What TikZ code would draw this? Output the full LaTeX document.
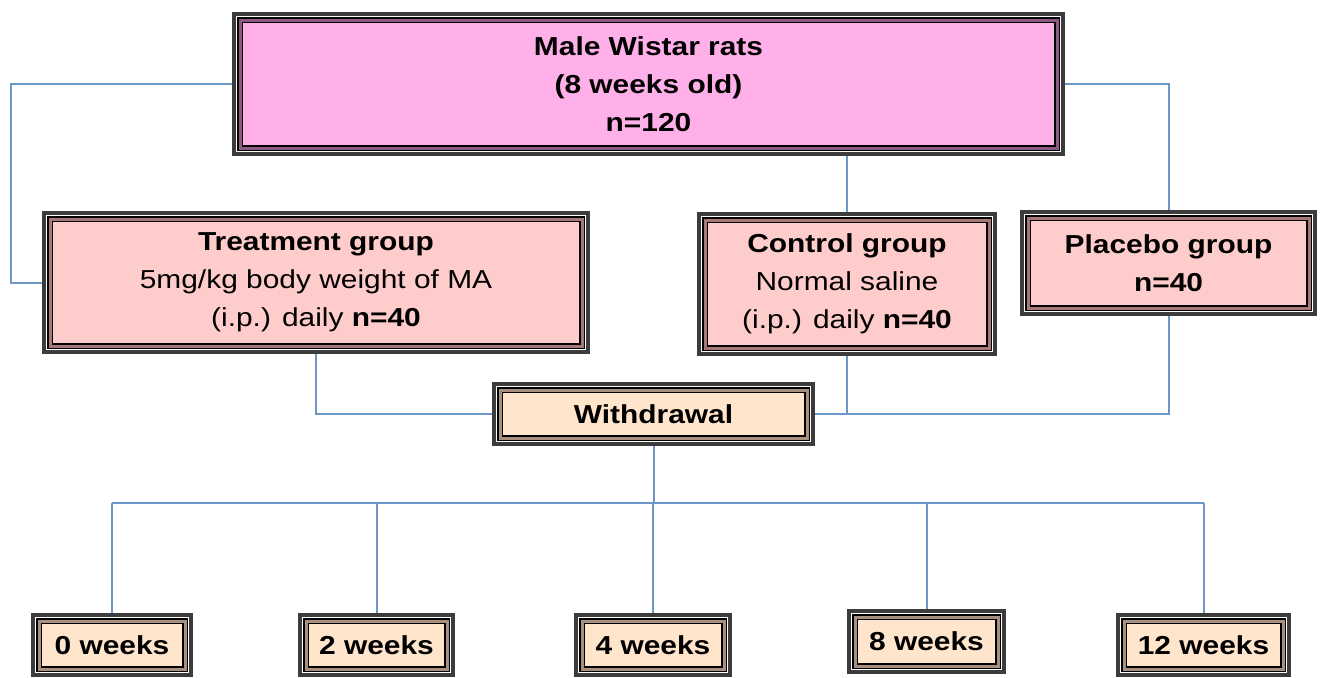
\documentclass[tikz,border=0pt]{standalone}
\usepackage{fontspec}
\setmainfont[FakeStretch=1.15]{Liberation Sans}
\usepackage{xcolor}
\usetikzlibrary{backgrounds}
\definecolor{topfill}{HTML}{FFB0E8}
\definecolor{topband}{HTML}{8C5A80}
\definecolor{grpfill}{HTML}{FFCCCC}
\definecolor{grpband}{HTML}{A87878}
\definecolor{wkfill}{HTML}{FFE5CC}
\definecolor{wkband}{HTML}{A89080}
\definecolor{linkblue}{HTML}{6C96C8}
\definecolor{framegray}{HTML}{3C3C3C}

\begin{document}
\begin{tikzpicture}[x=0.5pt, y=-0.5pt,
      every node/.style={font=\fontsize{13}{19}\selectfont, align=center, inner sep=0pt},
      box/.style={preaction={draw=framegray, line width=8pt},
                  preaction={draw=white, line width=4pt},
                  draw=black, line width=0.75pt, double=#1, double distance=1.5pt},
      conn/.style={draw=linkblue, line width=1pt}]

      \useasboundingbox (0,0) rectangle (1328,677);

      \node[box=topband, fill=topfill, minimum width=408.5pt, minimum height=64pt] (rats) at (648.5,84)
        {\textbf{Male Wistar rats}\\\textbf{(8 weeks old)}\\\textbf{n=120}};

      \node[box=grpband, fill=grpfill, minimum width=266pt, minimum height=63.5pt] (treat) at (316,282.5)
        {\textbf{Treatment group}\\5mg/kg body weight of MA\\(i.p.) daily \textbf{n=40}};
      \node[box=grpband, fill=grpfill, minimum width=142pt, minimum height=64pt] (ctrl) at (847,284)
        {\textbf{Control group}\\Normal saline\\(i.p.) daily \textbf{n=40}};
      \node[box=grpband, fill=grpfill, minimum width=140.5pt, minimum height=45pt] (plac) at (1168.5,263)
        {\textbf{Placebo group}\\\textbf{n=40}};

      \node[box=wkband, fill=wkfill, minimum width=153.5pt, minimum height=24pt] (wd) at (653.5,414)
        {\textbf{Withdrawal}};

      \node[box=wkband, fill=wkfill, minimum width=73pt, minimum height=24pt] (wk0) at (112,645) {\textbf{0 weeks}};
      \node[box=wkband, fill=wkfill, minimum width=70.5pt, minimum height=24pt] (wk2) at (376.5,645) {\textbf{2 weeks}};
      \node[box=wkband, fill=wkfill, minimum width=71pt, minimum height=24pt] (wk4) at (653,645) {\textbf{4 weeks}};
      \node[box=wkband, fill=wkfill, minimum width=71.5pt, minimum height=24.5pt] (wk8) at (926.5,641.5) {\textbf{8 weeks}};
      \node[box=wkband, fill=wkfill, minimum width=79.5pt, minimum height=24pt] (wk12) at (1203.5,645) {\textbf{12 weeks}};

      \coordinate (bus) at (655,503);

      \begin{scope}[on background layer]
        \path[conn] (rats.west) -- ++(-228,0) |- (treat.west);
        \path[conn] (rats.south -| ctrl.north) -- (ctrl.north);
        \path[conn] (rats.east) -| (plac.north);

        \path[conn] (treat.south) |- (wd.west);
        \path[conn] (ctrl.south) -- (ctrl.south |- wd.east);
        \path[conn] (plac.south) |- (wd.east);

        \path[conn] (wd.south) -- (wd.south |- bus);
        \path[conn] (wk0.north |- bus) -- (wk12.north |- bus);
        \path[conn] (wk0.north |- bus) -- (wk0.north);
        \path[conn] (wk2.north |- bus) -- (wk2.north);
        \path[conn] (wk4.north |- bus) -- (wk4.north);
        \path[conn] (wk8.north |- bus) -- (wk8.north);
        \path[conn] (wk12.north |- bus) -- (wk12.north);
      \end{scope}

\end{tikzpicture}
\end{document}
